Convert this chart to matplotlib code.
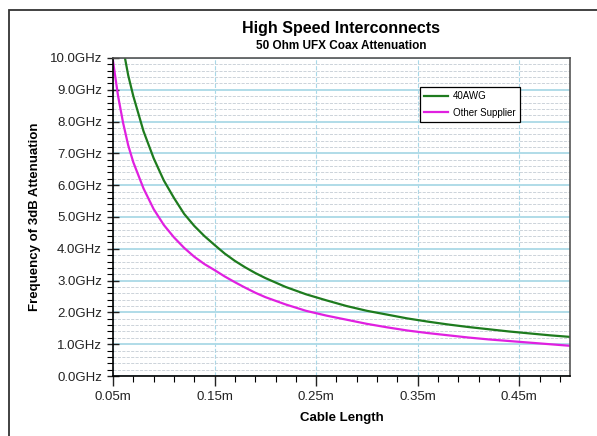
import numpy as np
import matplotlib
matplotlib.use('Agg')
import matplotlib.pyplot as plt
from matplotlib.ticker import FixedLocator, MultipleLocator, FuncFormatter
from matplotlib.patches import Rectangle

# cable length (m)
length_awg = [0.06, 0.065, 0.07, 0.08, 0.09, 0.10, 0.11, 0.12, 0.13, 0.14, 0.15,
              0.16, 0.17, 0.18, 0.19, 0.20, 0.22, 0.24, 0.26, 0.28, 0.30,
              0.32, 0.34, 0.36, 0.38, 0.40, 0.42, 0.44, 0.46, 0.48, 0.50]
freq_awg = [10.3, 9.45, 8.8, 7.7, 6.85, 6.15, 5.6, 5.1, 4.72, 4.4, 4.12,
            3.85, 3.62, 3.42, 3.24, 3.08, 2.8, 2.57, 2.38, 2.2, 2.05,
            1.93, 1.81, 1.71, 1.62, 1.54, 1.47, 1.4, 1.34, 1.28, 1.23]

length_other = [0.05, 0.055, 0.06, 0.065, 0.07, 0.08, 0.09, 0.10, 0.11, 0.12, 0.13, 0.14,
                0.15, 0.16, 0.17, 0.18, 0.19, 0.20, 0.22, 0.24, 0.26, 0.28,
                0.30, 0.32, 0.34, 0.36, 0.38, 0.40, 0.42, 0.44, 0.46, 0.48, 0.50]
freq_other = [9.9, 8.8, 7.95, 7.25, 6.72, 5.9, 5.25, 4.75, 4.36, 4.03, 3.75, 3.52,
              3.33, 3.13, 2.95, 2.78, 2.62, 2.48, 2.25, 2.05, 1.9, 1.77,
              1.64, 1.53, 1.43, 1.35, 1.28, 1.21, 1.15, 1.10, 1.05, 1.00, 0.95]

x_ticks = [0.05, 0.15, 0.25, 0.35, 0.45]

plt.rcParams['font.family'] = ['Liberation Sans', 'DejaVu Sans']

fig = plt.figure(figsize=(5.97, 4.36), dpi=100)
ax = fig.add_axes([0.1893, 0.1376, 0.9548 - 0.1893, 0.867 - 0.1376])

# outer frame
fig.patches.append(Rectangle((0.015, -0.1), 1.2, 1.077, transform=fig.transFigure,
                             fill=False, edgecolor='#333333', linewidth=1.3))

ax.plot(length_awg, freq_awg, color='#1e7b1e', linewidth=1.6, label='40AWG')
ax.plot(length_other, freq_other, color='#e020e0', linewidth=1.6, label='Other Supplier')

ax.set_xlim(0.05, 0.5)
ax.set_ylim(0, 10)

ax.xaxis.set_major_locator(FixedLocator(x_ticks))
ax.xaxis.set_minor_locator(FixedLocator(np.arange(0.05, 0.501, 0.02)))
ax.yaxis.set_major_locator(MultipleLocator(1.0))
ax.yaxis.set_minor_locator(MultipleLocator(0.2))
ax.xaxis.set_major_formatter(FuncFormatter(lambda v, p: '%.2fm' % v))
ax.yaxis.set_major_formatter(FuncFormatter(lambda v, p: '%.1fGHz' % v))

ax.tick_params(axis='x', which='major', direction='out', length=7, width=1, labelsize=9.5, colors='#222222')
ax.tick_params(axis='x', which='minor', direction='out', length=4, width=0.8)
ax.tick_params(axis='y', which='major', direction='inout', length=9, width=1, labelsize=9.5, colors='#222222')
ax.tick_params(axis='y', which='minor', direction='out', length=4, width=0.8)

ax.grid(axis='x', which='major', color='#a8d8e8', linestyle='--', linewidth=0.8)
ax.grid(axis='y', which='major', color='#b0dce8', linestyle='-', linewidth=1.4)
ax.grid(axis='y', which='minor', color='#c4ccd4', linestyle='--', linewidth=0.6)
ax.set_axisbelow(True)

for s in ['left', 'bottom']:
    ax.spines[s].set_color('black')
    ax.spines[s].set_linewidth(1.2)
for s in ['top', 'right']:
    ax.spines[s].set_color('#555555')
    ax.spines[s].set_linewidth(1.2)

fig.text(0.572, 0.935, 'High Speed Interconnects', ha='center', va='center',
         fontsize=11.5, fontweight='bold')
fig.text(0.572, 0.895, '50 Ohm UFX Coax Attenuation', ha='center', va='center',
         fontsize=8.5, fontweight='bold')
ax.set_xlabel('Cable Length', fontsize=9.5, fontweight='bold', labelpad=7)
ax.set_ylabel('Frequency of 3dB Attenuation', fontsize=9.5, fontweight='bold', labelpad=6)

leg = ax.legend(loc='upper left', bbox_to_anchor=(0.672, 0.909), fontsize=7,
                fancybox=False, framealpha=1, edgecolor='black', handlelength=2.4,
                handletextpad=0.5, borderpad=0.45, labelspacing=0.65, borderaxespad=0)
leg.get_frame().set_linewidth(0.9)

fig.savefig('out.png', dpi=100)
